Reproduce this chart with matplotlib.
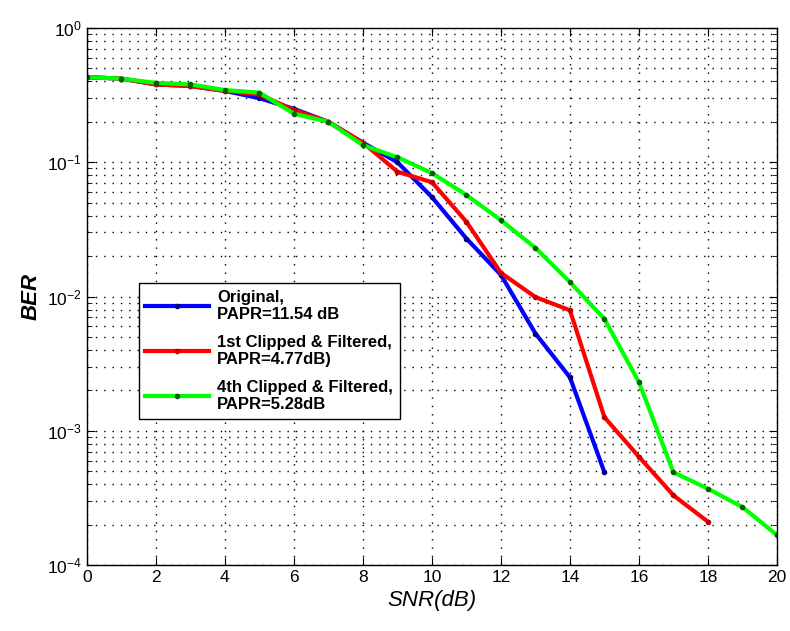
import numpy as np
import matplotlib
matplotlib.use('Agg')
import matplotlib.pyplot as plt
from matplotlib.ticker import LogLocator, NullFormatter

plt.rcParams['font.family'] = ['Liberation Sans', 'DejaVu Sans']
plt.rcParams['mathtext.fontset'] = 'custom'
plt.rcParams['mathtext.rm'] = 'Liberation Sans'

# Datos
snr_orig = np.arange(0, 16)
ber_orig = [0.43, 0.42, 0.38, 0.37, 0.34, 0.30, 0.25, 0.20, 0.14, 0.10,
            0.055, 0.027, 0.0145, 0.0053, 0.0025, 0.00049]

snr_clip1 = np.arange(0, 19)
ber_clip1 = [0.43, 0.42, 0.38, 0.37, 0.34, 0.32, 0.245, 0.20, 0.14, 0.085,
             0.071, 0.036, 0.015, 0.0099, 0.0079, 0.00126, 0.00064, 0.00033, 0.00021]

snr_clip4 = np.arange(0, 21)
ber_clip4 = [0.43, 0.42, 0.39, 0.38, 0.345, 0.33, 0.23, 0.20, 0.134, 0.109,
             0.083, 0.057, 0.037, 0.023, 0.0128, 0.0068, 0.0023, 0.00049,
             0.00037, 0.00027, 0.000167]

labels = ['Original,\nPAPR=11.54 dB',
          '1st Clipped & Filtered,\nPAPR=4.77dB)',
          '4th Clipped & Filtered,\nPAPR=5.28dB']

fig = plt.figure(figsize=(7.9, 6.31), dpi=100)
ax = fig.add_axes([0.110, 0.1046, 0.8735, 0.851])

ax.semilogy(snr_orig, ber_orig, color='#0000ff', lw=3, marker='.', ms=6,
            mec='#000080', mfc='#000080', label=labels[0])
ax.semilogy(snr_clip1, ber_clip1, color='#ff0000', lw=3, marker='.', ms=6,
            mec='#c00000', mfc='#c00000', label=labels[1])
ax.semilogy(snr_clip4, ber_clip4, color='#00ff00', lw=3, marker='.', ms=6,
            mec='#006000', mfc='#006000', label=labels[2])

ax.set_xlim(0, 20)
ax.set_ylim(1e-4, 1)
ax.set_xticks(np.arange(0, 21, 2))
ax.yaxis.set_major_locator(LogLocator(base=10, numticks=10))
ax.yaxis.set_minor_locator(LogLocator(base=10, subs=np.arange(2, 10), numticks=10))
ax.yaxis.set_minor_formatter(NullFormatter())

ax.grid(True, which='major', linestyle=(0, (1, 5)), color='black', lw=1.0)
ax.grid(True, which='minor', axis='y', linestyle=(0, (1, 5)), color='black', lw=1.0)
ax.tick_params(which='both', direction='in', top=True, right=True, labelsize=12.5,
               colors='black')
ax.tick_params(which='major', length=6)
ax.tick_params(which='minor', length=3.5)
for s in ax.spines.values():
    s.set_linewidth(1.0)

ax.set_xlabel('SNR(dB)', fontsize=16, style='italic')
ax.set_ylabel('BER', fontsize=16, style='italic', fontweight='bold')

leg = ax.legend(loc='upper left', bbox_to_anchor=(0.075, 0.525),
                prop={'weight': 'bold', 'size': 12}, fancybox=False,
                edgecolor='black', framealpha=1, handlelength=3.8,
                handletextpad=0.5, labelspacing=0.75, borderaxespad=0,
                borderpad=0.4)
leg.get_frame().set_linewidth(1.0)

plt.savefig('out.png', dpi=100)
